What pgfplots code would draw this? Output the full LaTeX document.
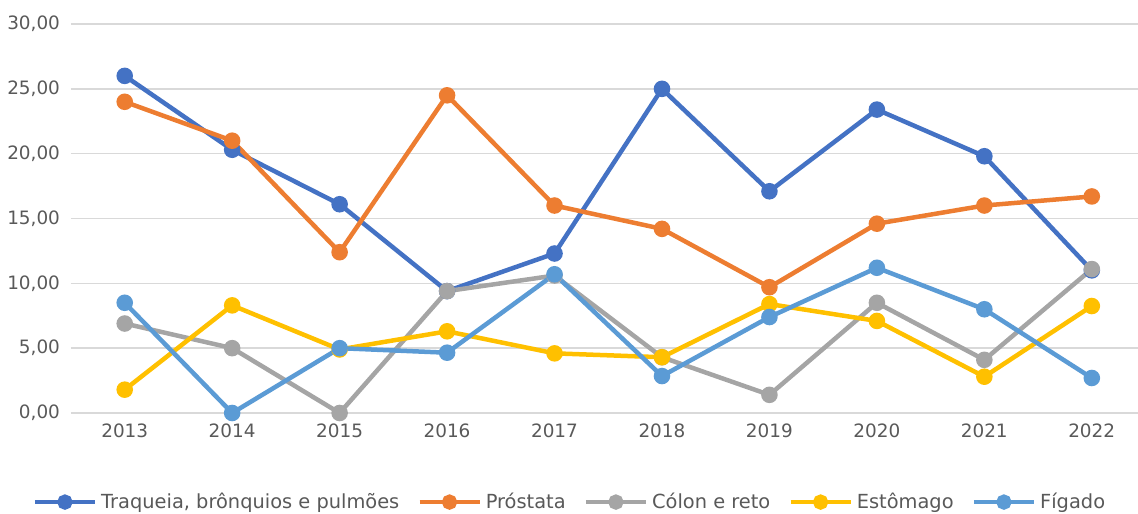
\documentclass[border=0pt]{standalone}
\usepackage{pgfplots}
\pgfplotsset{compat=1.18}
\usepackage{fontspec}
\setmainfont{DejaVu Sans}
\definecolor{c1}{HTML}{4472C4}
\definecolor{c2}{HTML}{ED7D31}
\definecolor{c3}{HTML}{A5A5A5}
\definecolor{c4}{HTML}{FFC000}
\definecolor{c5}{HTML}{5B9BD5}
\definecolor{txt}{HTML}{595959}
\definecolor{grd}{HTML}{D9D9D9}
\begin{document}
\begin{tikzpicture}
\begin{axis}[
    name=ax,
    scale only axis,
    width=533.5pt, height=194.5pt,
    xmin=2012.5, xmax=2022.43,
    ymin=0, ymax=30,
    xtick={2013,...,2022},
    ytick={0,5,...,30},
    axis line style={draw=none},
    major tick length=0pt,
    ymajorgrids,
    grid style={grd, line width=0.75pt},
    font=\fontsize{9.2}{11}\selectfont,
    tick label style={txt},
    xticklabel style={/pgf/number format/1000 sep={}, yshift=-2pt},
    yticklabel style={/pgf/number format/.cd, fixed, fixed zerofill, precision=2, use comma, /tikz/.cd, xshift=-2pt},
    /pgf/number format/assume math mode=true,
    every axis plot/.append style={line width=2.25pt, mark=*, mark size=3pt},
    legend columns=-1,
    legend style={draw=none, at={(0.4685,-0.229)}, anchor=center,
        font=\fontsize{9.7}{11}\selectfont, text=txt,
        /tikz/every even column/.append style={column sep=7pt}},
    legend image code/.code={\draw[mark repeat=2, mark phase=2, mark size=2.7pt]
        plot coordinates {(0pt,0pt) (15pt,0pt) (30pt,0pt)};},
    clip=false,
]
% Traqueia, bronquios e pulmoes
\addplot[c1, mark options={fill=c1}] coordinates {
    (2013,26.0) (2014,20.3) (2015,16.1) (2016,9.4) (2017,12.3)
    (2018,25.0) (2019,17.1) (2020,23.4) (2021,19.8) (2022,11.0)
};
\addlegendentry{Traqueia, brônquios e pulmões}
% Prostata
\addplot[c2, mark options={fill=c2}] coordinates {
    (2013,24.0) (2014,21.0) (2015,12.4) (2016,24.5) (2017,16.0)
    (2018,14.2) (2019,9.7) (2020,14.6) (2021,16.0) (2022,16.7)
};
\addlegendentry{Próstata}
% Colon e reto
\addplot[c3, mark options={fill=c3}] coordinates {
    (2013,6.9) (2014,5.0) (2015,0.0) (2016,9.4) (2017,10.6)
    (2018,4.3) (2019,1.4) (2020,8.5) (2021,4.1) (2022,11.1)
};
\addlegendentry{Cólon e reto}
% Estomago
\addplot[c4, mark options={fill=c4}] coordinates {
    (2013,1.8) (2014,8.3) (2015,4.9) (2016,6.3) (2017,4.6)
    (2018,4.3) (2019,8.4) (2020,7.1) (2021,2.8) (2022,8.25)
};
\addlegendentry{Estômago}
% Figado
\addplot[c5, mark options={fill=c5}] coordinates {
    (2013,8.5) (2014,0.0) (2015,5.0) (2016,4.65) (2017,10.7)
    (2018,2.85) (2019,7.4) (2020,11.2) (2021,8.0) (2022,2.7)
};
\addlegendentry{Fígado}
\end{axis}
\pgfresetboundingbox
\useasboundingbox ([xshift=-35.5pt, yshift=-50pt]ax.south west) rectangle ([yshift=12pt]ax.north east);
\end{tikzpicture}
\end{document}
